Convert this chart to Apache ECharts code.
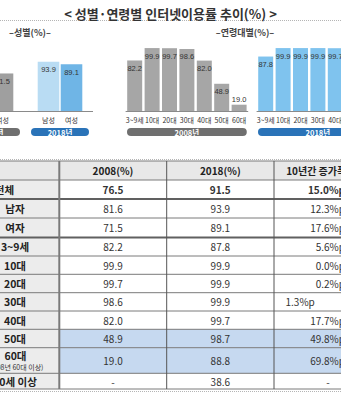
<!DOCTYPE html>
<html><head><meta charset="utf-8">
<script src="https://cdn.jsdelivr.net/npm/echarts@6/dist/echarts.min.js"></script>
<style>html,body{margin:0;padding:0;background:#fff;}#c{width:341px;height:400px;}</style>
</head><body><div id="c"></div>
<script>
// ---- data ----
const chartTitle = '< 성별·연령별 인터넷이용률 추이(%) >';
const sexTitle = '–성별(%)–';
const ageTitle = '–연령대별(%)–';
const years = ['2008년', '2018년'];
const sexCats = ['남성', '여성'];
const sex2008 = [81.6, 71.5];
const sex2018 = [93.9, 89.1];
const ageCats = ['3~9세', '10대', '20대', '30대', '40대', '50대', '60대'];
const age2008 = [82.2, 99.9, 99.7, 98.6, 82.0, 48.9, 19.0];
const age2018 = [87.8, 99.9, 99.9, 99.9, 99.7, 98.7, 88.8];

const tableHeader = ['', '2008(%)', '2018(%)', '10년간 증가폭(%p)'];
const rowLabels = ['전체', '남자', '여자', '3~9세', '10대', '20대', '30대', '40대', '50대', '60대', '70세 이상'];
const rowSubLabel = '(2008년 60대 이상)';
const col2008 = ['76.5', '81.6', '71.5', '82.2', '99.9', '99.7', '98.6', '82.0', '48.9', '19.0', '-'];
const col2018 = ['91.5', '93.9', '89.1', '87.8', '99.9', '99.9', '99.9', '99.7', '98.7', '88.8', '38.6'];
const colDiff = ['15.0%p', '12.3%p', '17.6%p', '5.6%p', '0.0%p', '0.2%p', '1.3%p', '17.7%p', '49.8%p', '69.8%p', '-'];

// ---- layout / style ----
const KR = "'Noto Sans CJK KR', 'Noto Sans', sans-serif";
const NUM = "'Liberation Sans Narrow', 'Liberation Sans', sans-serif";
const grey2008 = ['#c9c9c9', '#9f9f9f'];
const blue2018 = ['#b9dcf3', '#6fb5e6'];
const ageGrey = '#a6a6a6';
const ageBlue = '#7fc3ee';
const pillGrey = '#6f6f6f';
const pillBlue = '#2a73b8';
const base = 111;

const gridBoxes = [
  {left: -32, top: 58.5, width: 46, height: 52.5},
  {left: 37, top: 58.5, width: 46, height: 52.5},
  {left: 126, top: 48, width: 121.8, height: 63},
  {left: 257, top: 48, width: 121.8, height: 63}
];
const grids = gridBoxes.map(b => Object.assign({outerBoundsMode: 'none', containLabel: false}, b));

function xAx(i, cats, showLine) {
  return {
    type: 'category', gridIndex: i, data: cats,
    axisTick: {show: false},
    axisLine: {show: showLine, lineStyle: {color: '#8a8a8a', width: 1}},
    axisLabel: {interval: 0, fontSize: 7, color: '#333', margin: 5, fontFamily: KR, hideOverlap: false}
  };
}
function yAx(i, min) {
  return {type: 'value', gridIndex: i, min: min, max: 100, show: false, splitLine: {show: false}};
}
const barLabel = {
  show: true, position: 'insideTop', distance: 4, fontSize: 7.5, color: '#333',
  fontFamily: NUM, formatter: p => Number(p.value).toFixed(1)
};
function items(arr) {
  return arr.map(v => v < 30 ? {value: v, label: {position: 'top', distance: 1}} : v);
}

const series = [
  {type: 'bar', xAxisIndex: 0, yAxisIndex: 0, data: sex2008, barWidth: 21.6, label: barLabel,
   itemStyle: {color: p => grey2008[p.dataIndex]}},
  {type: 'bar', xAxisIndex: 1, yAxisIndex: 1, data: sex2018, barWidth: 21.6, label: barLabel,
   itemStyle: {color: p => blue2018[p.dataIndex]}},
  {type: 'bar', xAxisIndex: 2, yAxisIndex: 2, data: items(age2008), barWidth: 15, label: barLabel,
   itemStyle: {color: ageGrey}},
  {type: 'bar', xAxisIndex: 3, yAxisIndex: 3, data: items(age2018), barWidth: 15, label: barLabel,
   itemStyle: {color: ageBlue}}
];

// ---- graphics ----
const g = [];
function txt(text, x, y, font, fill, align) {
  g.push({type: 'text', silent: true, z: 10, style: {text: text, x: x, y: y, font: font, fill: fill,
    align: align || 'center', verticalAlign: 'middle', textAlign: align || 'center', textVerticalAlign: 'middle'}});
}
function line(x1, y1, x2, y2, color, w, dash) {
  g.push({type: 'line', silent: true, z: 5, shape: {x1: x1, y1: y1, x2: x2, y2: y2},
    style: {stroke: color, lineWidth: w, lineDash: dash || null}});
}
function rect(x, y, w, h, fill, r, z) {
  g.push({type: 'rect', silent: true, z: z || 1, shape: {x: x, y: y, width: w, height: h, r: r || 0}, style: {fill: fill}});
}

txt(chartTitle, 170.5, 13, "bold 13px " + KR, '#333');
line(0, 20.5, 341, 20.5, '#b5b5b5', 1, [1, 1]);
txt(sexTitle, 30, 32, "bold 9px " + KR, '#444');
txt(ageTitle, 245, 32, "bold 9px " + KR, '#444');
line(-40, base + 0.5, 93, base + 0.5, '#8a8a8a', 1);

// year pills
const pillCols = [pillGrey, pillBlue, pillGrey, pillBlue];
gridBoxes.forEach((gr, i) => {
  const extra = i < 2 ? 12 : -2;
  const w = gr.width + extra;
  const cx = gr.left + gr.width / 2;
  rect(cx - w / 2, 128, w, 8, pillCols[i], 4, 6);
  txt(years[i % 2], cx, 132.2, "bold 7.5px " + KR, '#fff');
});

// ---- table ----
line(0, 159.5, 341, 159.5, '#b5b5b5', 1, [1, 1]);
line(0, 391.5, 341, 391.5, '#b5b5b5', 1, [1, 1]);
const colX = [-30, 59.3, 166.7, 274, 382];
const ys = [161, 180, 199, 218, 237.5, 256, 274.3, 292.7, 311, 329.3, 347.7, 373.3, 389];
rect(colX[0], ys[0], colX[4] - colX[0], ys[1] - ys[0], '#e8e8e8');
rect(colX[0], ys[1], colX[1] - colX[0], ys[12] - ys[1], '#ececec');
[8, 9].forEach(r => rect(colX[1], ys[r + 1], colX[4] - colX[1], ys[r + 2] - ys[r + 1], '#c6d9f0'));
ys.forEach((y, i) => {
  const thick = (i === 2 || i === 4);
  line(colX[0], y, colX[4], y, thick ? '#606060' : '#7a7a7a', thick ? 2 : 1);
});
line(colX[1], ys[0], colX[1], ys[12], '#7a7a7a', 2);
line(colX[2], ys[0], colX[2], ys[12], '#555', 1);
line(colX[3], ys[0], colX[3], ys[12], '#555', 1);
const hFont = "bold 10px " + KR;
txt(tableHeader[1], 113, (ys[0] + ys[1]) / 2, hFont, '#222');
txt(tableHeader[2], 220.3, (ys[0] + ys[1]) / 2, hFont, '#222');
txt(tableHeader[3], 328, (ys[0] + ys[1]) / 2, hFont, '#222');
rowLabels.forEach((lab, i) => {
  const y0 = ys[i + 1], y1 = ys[i + 2];
  const cy = (y0 + y1) / 2;
  const bold = i === 0;
  const vf = (bold ? 'bold ' : '') + "10px " + KR;
  if (lab === '60대') {
    txt(lab, 15.5, cy - 5.5, "bold 10.5px " + KR, '#222');
    txt(rowSubLabel, 15, cy + 6.5, "7px " + KR, '#333');
  } else {
    txt(lab, i === 0 ? 4.5 : 15, cy, "bold 10.5px " + KR, '#222');
  }
  txt(col2008[i], 113, cy, vf, '#333');
  txt(col2018[i], 220.3, cy, vf, '#333');
  const d = colDiff[i];
  if (d === '-') txt(d, 328, cy, vf, '#333');
  else if (d === '1.3%p') txt(d, 285.5, cy, vf, '#333', 'left');
  else txt(d, 345, cy, vf, '#333', 'right');
});

const chart = echarts.init(document.getElementById('c'), null, {renderer: 'svg'});
chart.setOption({
  animation: false,
  backgroundColor: '#fff',
  grid: grids,
  xAxis: [xAx(0, sexCats, false), xAx(1, sexCats, false), xAx(2, ageCats, true), xAx(3, ageCats, true)],
  yAxis: [yAx(0, 0), yAx(1, 0), yAx(2, 10), yAx(3, 10)],
  series: series,
  graphic: g
});
</script></body></html>
